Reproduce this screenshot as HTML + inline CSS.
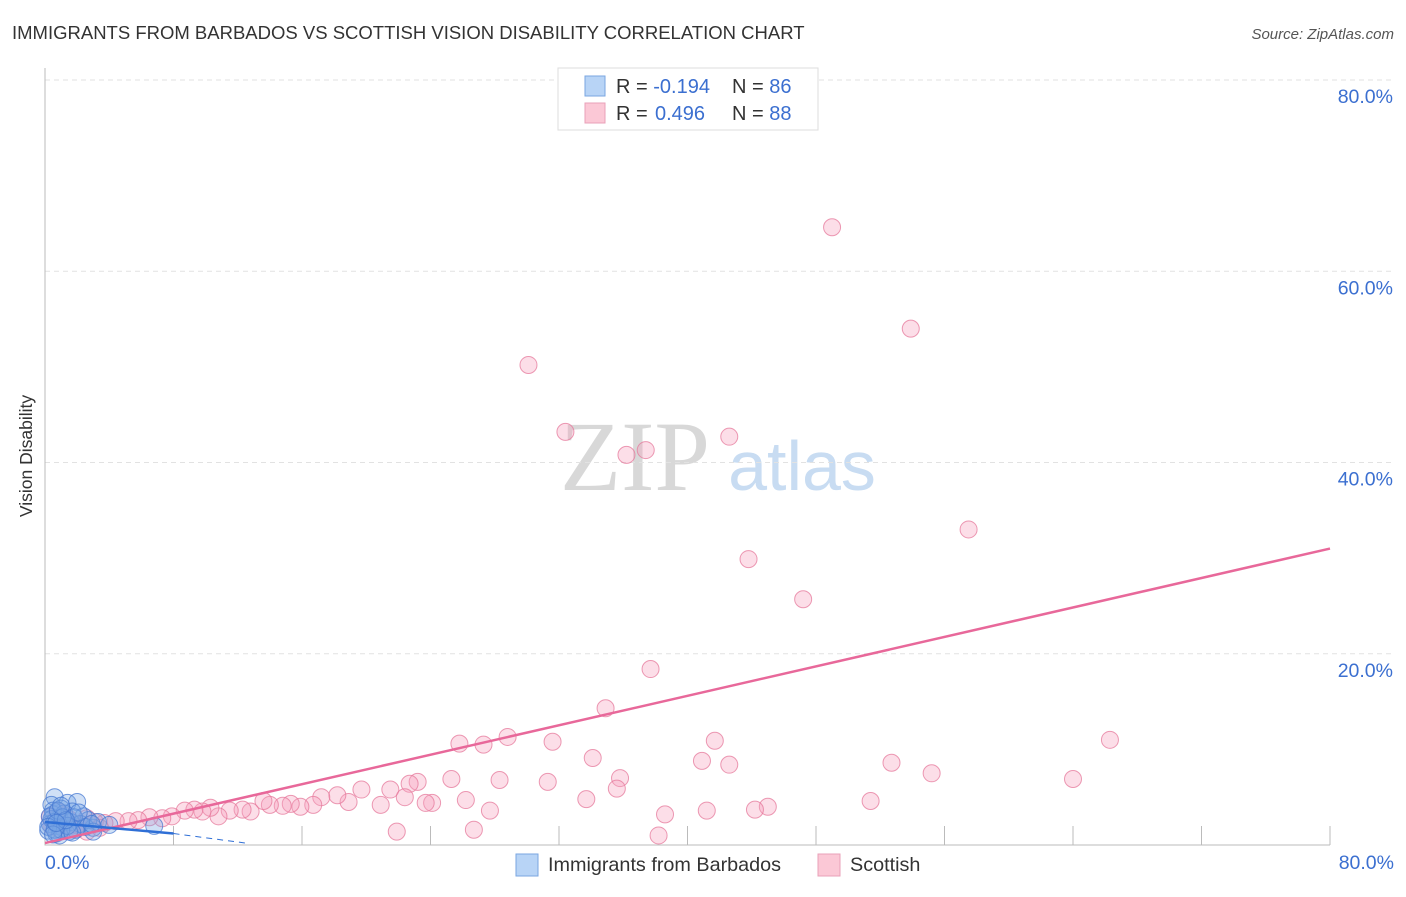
<!DOCTYPE html>
<html><head><meta charset="utf-8"><style>
body{margin:0;background:#fff;font-family:"Liberation Sans",sans-serif;}
</style></head><body>
<svg id="chart" width="1406" height="892" viewBox="0 0 1406 892" style="font-family:'Liberation Sans',sans-serif">
<text x="12" y="39" font-size="18.5" fill="#333">IMMIGRANTS FROM BARBADOS VS SCOTTISH VISION DISABILITY CORRELATION CHART</text>
<text x="1394" y="39" font-size="15" fill="#555" font-style="italic" text-anchor="end">Source: ZipAtlas.com</text>
<text x="32" y="456" font-size="17.5" fill="#333" text-anchor="middle" transform="rotate(-90 32 456)">Vision Disability</text>
<g>
<text x="635" y="490" font-size="100" fill="#d8d8d8" style="font-family:'Liberation Serif',serif" text-anchor="middle">ZIP</text>
<text x="802" y="490" font-size="70" fill="#c8dcf2" text-anchor="middle">atlas</text>
</g>
<g id="grid"></g>
<g id="axes"></g>
<g id="pts"></g>
<g id="lines"></g>
<g>
<rect x="558" y="68" width="260" height="62" fill="#fff" stroke="#ddd"/>
<rect x="585" y="76" width="20" height="20" fill="#b8d4f6" stroke="#7aa6e0"/>
<rect x="585" y="103" width="20" height="20" fill="#fbc8d6" stroke="#eaa0b8"/>
<text x="616" y="93" font-size="20" fill="#333">R = <tspan fill="#3b6fd0">-0.194</tspan><tspan x="732">N = </tspan><tspan fill="#3b6fd0">86</tspan></text>
<text x="616" y="120" font-size="20" fill="#333">R = <tspan fill="#3b6fd0" x="655">0.496</tspan><tspan x="732">N = </tspan><tspan fill="#3b6fd0">88</tspan></text>
</g>
<g>
<rect x="516" y="854" width="22" height="22" fill="#b8d4f6" stroke="#7aa6e0"/>
<text x="548" y="871" font-size="19.8" fill="#333">Immigrants from Barbados</text>
<rect x="818" y="854" width="22" height="22" fill="#fbc8d6" stroke="#eaa0b8"/>
<text x="850" y="871" font-size="19.8" fill="#333">Scottish</text>
</g>
</svg>
<script>
const yTicks=[20,40,60,80];
const yTickLabels=["20.0%","40.0%","60.0%","80.0%"];
const xTickLabels=["0.0%","80.0%"];
const pinkX=[49.0,53.9,30.1,32.4,42.6,37.4,36.2,57.5,43.8,47.2,37.7,34.9,28.8,25.8,27.3,31.6,41.7,66.3,34.1,40.9,52.7,42.6,55.2,64.0,35.8,28.3,25.3,31.3,23.2,22.7,21.5,19.7,35.6,33.7,26.2,22.4,51.4,45.0,44.2,41.2,27.7,38.6,24.1,23.7,20.9,18.9,18.2,17.2,16.7,15.9,15.3,14.8,14.0,13.6,12.8,12.3,11.5,10.8,10.3,9.8,9.3,8.7,7.9,7.3,6.5,5.8,5.2,4.4,3.7,3.1,2.6,2.2,1.6,1.1,0.6,21.9,26.7,38.2,2.6,0.9,0.4,1.9,3.4,1.2,0.8,1.5,2.0,0.3];
const pinkY=[64.6,54.0,50.2,43.2,42.7,41.3,40.8,33.0,29.9,25.7,18.4,14.3,11.3,10.6,10.5,10.8,10.9,11.0,9.1,8.8,8.6,8.4,7.5,6.9,7.0,6.8,6.9,6.6,6.6,6.4,5.8,5.8,5.9,4.8,4.7,5.0,4.6,4.0,3.7,3.6,3.6,3.2,4.4,4.4,4.2,4.5,5.2,5.0,4.2,4.0,4.3,4.1,4.2,4.6,3.5,3.7,3.6,3.0,3.9,3.5,3.7,3.6,3.0,2.8,2.9,2.6,2.5,2.5,2.3,2.4,2.8,2.2,2.0,2.3,2.6,1.4,1.6,1.0,1.4,1.6,2.0,1.6,1.8,3.1,3.5,2.7,2.1,2.9];
const blueX=[0.6,1.4,0.4,1.0,2.0,1.7,0.5,0.9,1.3,2.4,0.3,0.8,1.1,1.6,2.2,3.0,0.2,0.7,1.9,2.7,0.5,1.2,1.5,0.4,0.9,2.5,3.3,1.8,0.6,1.0,6.8,3.0,0.3,1.4,2.1,0.8,1.1,1.7,0.2,0.6,2.9,1.3,0.5,4.0,1.0,0.7];
const blueY=[5.0,4.4,4.2,3.8,4.5,3.5,3.2,2.8,2.5,3.0,2.2,2.0,1.8,2.4,2.2,1.8,1.5,1.2,1.6,2.6,3.6,3.3,1.4,2.7,1.0,1.9,2.4,2.9,2.4,1.6,2.0,1.4,3.0,2.0,3.4,3.6,2.9,1.3,1.9,1.6,2.2,2.6,1.1,2.1,4.1,2.3];
const pinkLine=[[0,0.2],[80,31.0]];
const blueLine=[[0,2.4],[8,1.2]];
const blueDash=[[8,1.2],[12.5,0.2]];
const X=v=>45+v/80*1285, Y=v=>845-v/80*765;
const NS="http://www.w3.org/2000/svg";
function mk(tag,attrs,parent){const e=document.createElementNS(NS,tag);for(const k in attrs)e.setAttribute(k,attrs[k]);parent.appendChild(e);return e;}
const grid=document.getElementById('grid'),axes=document.getElementById('axes'),pts=document.getElementById('pts'),lines=document.getElementById('lines');
yTicks.forEach((t,i)=>{
 const l=mk('line',{x1:45,x2:1395,y1:Y(t),y2:Y(t),stroke:'#e2e2e2','stroke-dasharray':'5,4'},grid);
 
 
 const tx=mk('text',{x:1393,y:Y(t)+23,'font-size':19.5,fill:'#3b6fd0','text-anchor':'end'},axes);
 tx.textContent=yTickLabels[i];
 
 
});
const ax=mk('path',{d:'M45 68 V845 H1330',stroke:'#bbb',fill:'none'},axes);


for(let i=1;i<=10;i++){
 const t=mk('line',{x1:X(i*8),x2:X(i*8),y1:826,y2:845,stroke:'#bbb'},axes);
 
 
}
[[0,'start',45],[80,'end',1394]].forEach((d,i)=>{
 const tx=mk('text',{x:d[2],y:869,'font-size':19.5,fill:'#3b6fd0','text-anchor':d[1]},axes);
 tx.textContent=xTickLabels[i];
 
 
});
pinkX.forEach((v,i)=>{
 const c=mk('circle',{cx:X(v),cy:Y(pinkY[i]),r:8.5,fill:'rgba(245,160,188,0.35)',stroke:'rgba(230,120,155,0.75)','stroke-width':1},pts);
 
 
});
blueX.forEach((v,i)=>{
 const c=mk('circle',{cx:X(v),cy:Y(blueY[i]),r:8.5,fill:'rgba(120,165,230,0.35)',stroke:'rgba(70,120,210,0.75)','stroke-width':1},pts);
 
 
});
const pl=mk('line',{x1:X(pinkLine[0][0]),y1:Y(pinkLine[0][1]),x2:X(pinkLine[1][0]),y2:Y(pinkLine[1][1]),stroke:'#e8689a','stroke-width':2.5},lines);


const bl=mk('line',{x1:X(blueLine[0][0]),y1:Y(blueLine[0][1]),x2:X(blueLine[1][0]),y2:Y(blueLine[1][1]),stroke:'#2f6fd6','stroke-width':2.5},lines);


const bd=mk('line',{x1:X(blueDash[0][0]),y1:Y(blueDash[0][1]),x2:X(blueDash[1][0]),y2:Y(blueDash[1][1]),stroke:'#2f6fd6','stroke-width':1,'stroke-dasharray':'6,5'},lines);


</script>
</body></html>
